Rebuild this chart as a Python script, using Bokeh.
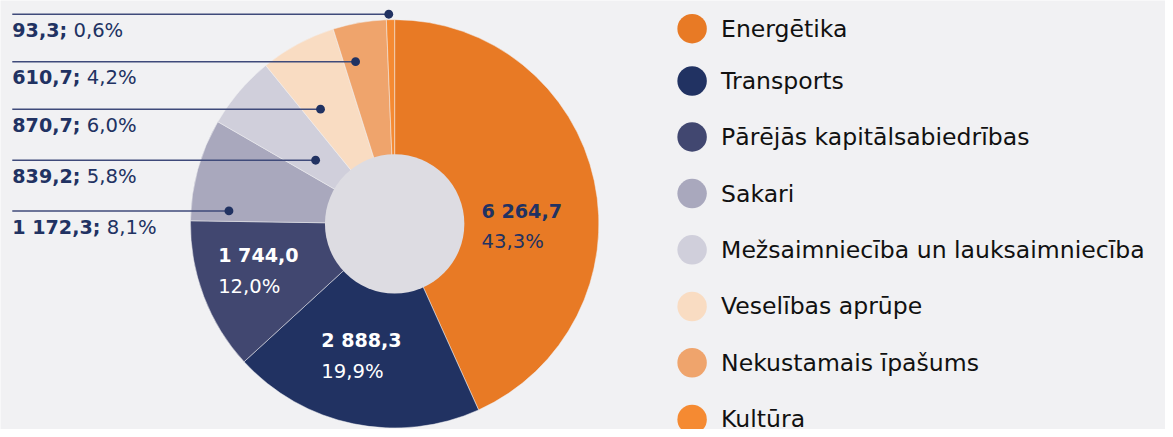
import math
from bokeh.plotting import figure
from bokeh.models import Range1d, ColumnDataSource
from bokeh.embed import file_html
from bokeh.resources import INLINE
from bokeh.core.properties import value

# ---------------- data ----------------
categories = ["Energētika", "Transports", "Pārējās kapitālsabiedrības", "Sakari",
              "Mežsaimniecība un lauksaimniecība", "Veselības aprūpe",
              "Nekustamais īpašums", "Kultūra"]
values = [6264.7, 2888.3, 1744.0, 1172.3, 839.2, 870.7, 610.7, 93.3]
colors = ["#e87a25", "#213262", "#414770", "#a9a8bd", "#d0cfdb", "#f9dcc2", "#efa46c", "#f58a32"]

# ---------------- layout (reference pixel coords) ----------------
BG = "#f1f1f3"
NAVY = "#213262"
W, H = 1165, 429
REF_H = 437
S = H / REF_H          # px per reference pixel
CX, CY = 401.5, 227.5
R_OUT, R_IN = 208, 71

callout_idx = [7, 6, 5, 4, 3]
callout_line_y = [14, 62.3, 110.7, 162.7, 214.3]
callout_dot_x = [395.5, 361.7, 326, 321, 232.7]
callout_x0 = 12
callout_text_dy = 16.5

inner_idx = [0, 1, 2]
inner_x = [490, 326.7, 221.7]
inner_mid_y = [214.5, 346.5, 260]
inner_colors = [NAVY, "white", "white"]

legend_rows = [28.7, 82, 139, 196.7, 254, 311.7, 369, 426.7]
legend_dot_x = 704.5
legend_text_x = 734

FONT = "DejaVu Sans"


def Y(y):
    return REF_H - y


def px(v):
    return f"{v * S:.2f}px"


def fmt_val(v):
    return f"{v:,.1f}".replace(",", " ").replace(".", ",")


total = sum(values)


def fmt_pct(v):
    return f"{v / total * 100:.1f}".replace(".", ",") + "%"


BOLD_W = {d: 0.696 for d in "0123456789"}
BOLD_W.update({" ": 0.348, ",": 0.380, ";": 0.400})


def bold_width(s, size):
    return sum(BOLD_W.get(c, 0.6) for c in s) * size


p = figure(width=W, height=H, x_range=Range1d(0, W / S), y_range=Range1d(0, REF_H),
           output_backend="svg", toolbar_location=None, min_border=0,
           x_axis_location=None, y_axis_location=None)
p.grid.visible = False
p.outline_line_color = None
p.background_fill_color = BG
p.border_fill_color = BG

# wedges
starts, ends = [], []
cum = 0.0
for v in values:
    starts.append(math.pi / 2 - 2 * math.pi * cum / total)
    cum += v
    ends.append(math.pi / 2 - 2 * math.pi * cum / total)
src = ColumnDataSource(dict(cat=categories, val=values, color=colors, start=starts, end=ends,
                            x=[CX] * len(values), y=[Y(CY)] * len(values)))
p.wedge(x="x", y="y", radius=R_OUT, start_angle="start", end_angle="end", direction="clock",
        fill_color="color", line_color=BG, line_width=0.5, source=src)
p.circle(x=[CX], y=[Y(CY)], radius=R_IN, fill_color="#dddce2", line_color=None)

# callouts for small slices
FS_B, FS_R = 19.5, 20
for k, i in enumerate(callout_idx):
    ly = callout_line_y[k]
    p.segment(x0=[callout_x0], y0=[Y(ly)], x1=[callout_dot_x[k]], y1=[Y(ly)],
              line_color="#3f4a7a", line_width=1.5)
    p.scatter(x=[callout_dot_x[k]], y=[Y(ly)], size=9 * S, fill_color=NAVY, line_color=None)
    btxt = fmt_val(values[i]) + ";"
    ty = Y(ly + callout_text_dy)
    p.text(x=[callout_x0], y=[ty], text=[btxt], text_font=value(FONT),
           text_font_style="bold", text_font_size=px(FS_B), text_color=NAVY,
           text_baseline="middle", text_align="left")
    rx = callout_x0 + bold_width(btxt, FS_B) + 0.318 * FS_R
    p.text(x=[rx], y=[ty], text=[fmt_pct(values[i])], text_font=value(FONT),
           text_font_size=px(FS_R), text_color=NAVY,
           text_baseline="middle", text_align="left")

# inner labels
for k, i in enumerate(inner_idx):
    p.text(x=[inner_x[k]], y=[Y(inner_mid_y[k])], text=[fmt_val(values[i])],
           text_font=value(FONT), text_font_style="bold", text_font_size=px(FS_B),
           text_color=inner_colors[k], text_baseline="middle", text_align="left")
    p.text(x=[inner_x[k]], y=[Y(inner_mid_y[k] + 31.5)], text=[fmt_pct(values[i])],
           text_font=value(FONT), text_font_size=px(FS_R),
           text_color=inner_colors[k], text_baseline="middle", text_align="left")

# legend
leg = ColumnDataSource(dict(x=[legend_dot_x] * len(categories), y=[Y(r) for r in legend_rows],
                            tx=[legend_text_x] * len(categories),
                            ty=[Y(r) for r in legend_rows],
                            color=colors, text=categories))
p.scatter(x="x", y="y", size=30 * S, fill_color="color", line_color=None, source=leg)
p.text(x="tx", y="ty", text="text", text_font=value(FONT), text_font_size=px(24),
       text_color="#111111", text_baseline="middle", text_align="left", source=leg)

html = file_html(p, INLINE)
html = html.replace("<body>", f'<body style="background-color:{BG};">', 1)
open("out.html", "w").write(html)
